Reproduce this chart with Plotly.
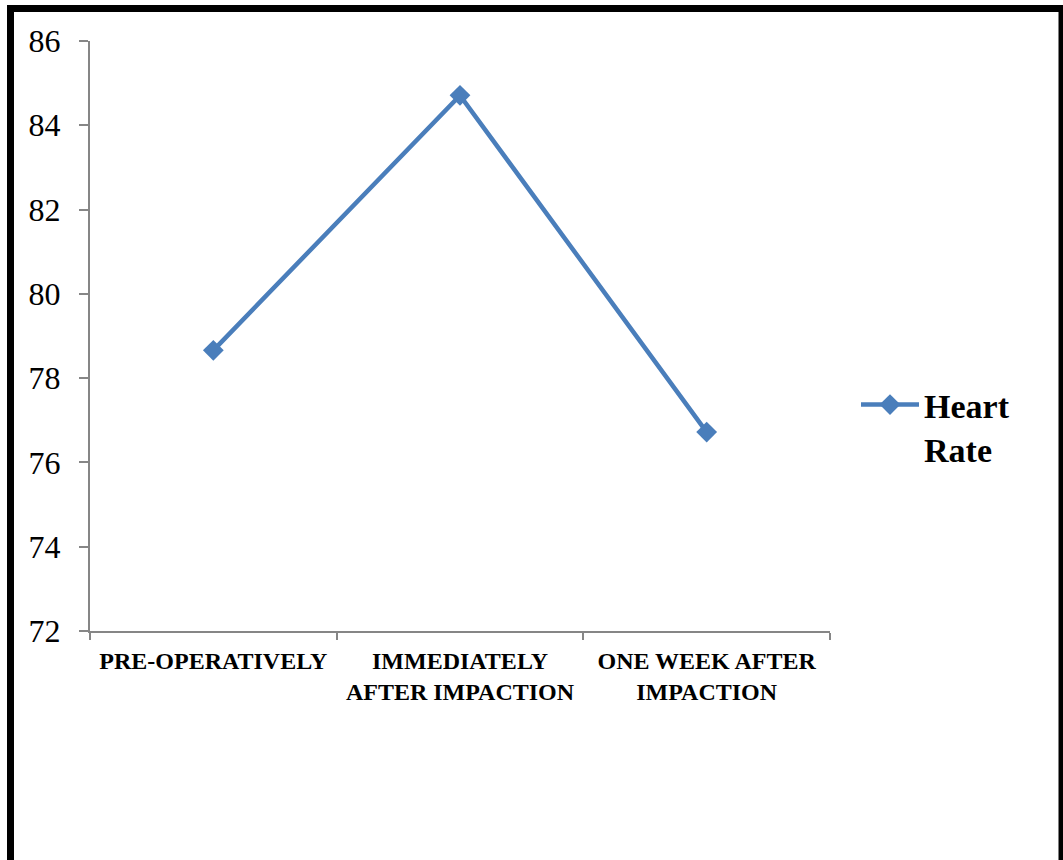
import plotly.graph_objects as go

# Mean heart rate at each assessment stage
stages = ["PRE-OPERATIVELY", "IMMEDIATELY<br>AFTER IMPACTION", "ONE WEEK AFTER<br>IMPACTION"]
heart_rate = [78.66, 84.71, 76.72]
y_ticks = [72, 74, 76, 78, 80, 82, 84, 86]

W, H = 1063, 860
L, R, T, B = 90, 233, 41, 229
pw, ph = W - L - R, H - T - B

def px_x(x):
    return (x - L) / pw

def px_y(y):
    return (H - B - y) / ph

line_color = "#4A7EBB"
axis_color = "#868686"

fig = go.Figure()
fig.add_trace(go.Scatter(
    x=stages, y=heart_rate, mode="lines+markers", name="Heart<br>Rate",
    line=dict(color=line_color, width=4.5),
    marker=dict(symbol="diamond", size=16, color=line_color),
))

fig.update_layout(
    width=W, height=H,
    margin=dict(l=L, r=R, t=T, b=B),
    paper_bgcolor="white", plot_bgcolor="white",
    font=dict(family="Liberation Serif, Times New Roman, serif", color="black"),
    showlegend=True,
    legend=dict(
        x=px_x(856), y=px_y(376), xanchor="left", yanchor="top",
        font=dict(size=34, family="Liberation Serif", color="black", weight="bold"),
        valign="top", bgcolor="rgba(0,0,0,0)", itemwidth=58,
    ),
    xaxis=dict(
        type="category", range=[-0.5, 2.5],
        showline=True, linecolor=axis_color, linewidth=2,
        ticks="outside", tickson="boundaries", ticklen=7, tickcolor=axis_color, tickwidth=2,
        showgrid=False, zeroline=False,
        tickfont=dict(size=24, family="Liberation Serif", color="black", weight="bold"),
        ticklabelstandoff=7,
    ),
    yaxis=dict(
        range=[72, 86], tickvals=y_ticks, ticktext=[str(v) for v in y_ticks],
        showline=True, linecolor=axis_color, linewidth=2,
        ticks="outside", ticklen=9, tickcolor=axis_color, tickwidth=2,
        showgrid=False, zeroline=False,
        tickfont=dict(size=32, family="Liberation Serif", color="black"),
        ticklabelstandoff=12,
    ),
    shapes=[dict(
        type="rect", xref="paper", yref="paper",
        x0=px_x(10.5), x1=px_x(1062), y0=px_y(880), y1=px_y(8.5),
        line=dict(color="black", width=7), fillcolor="rgba(0,0,0,0)",
        layer="above",
    )],
)

fig.write_html("out.html")
